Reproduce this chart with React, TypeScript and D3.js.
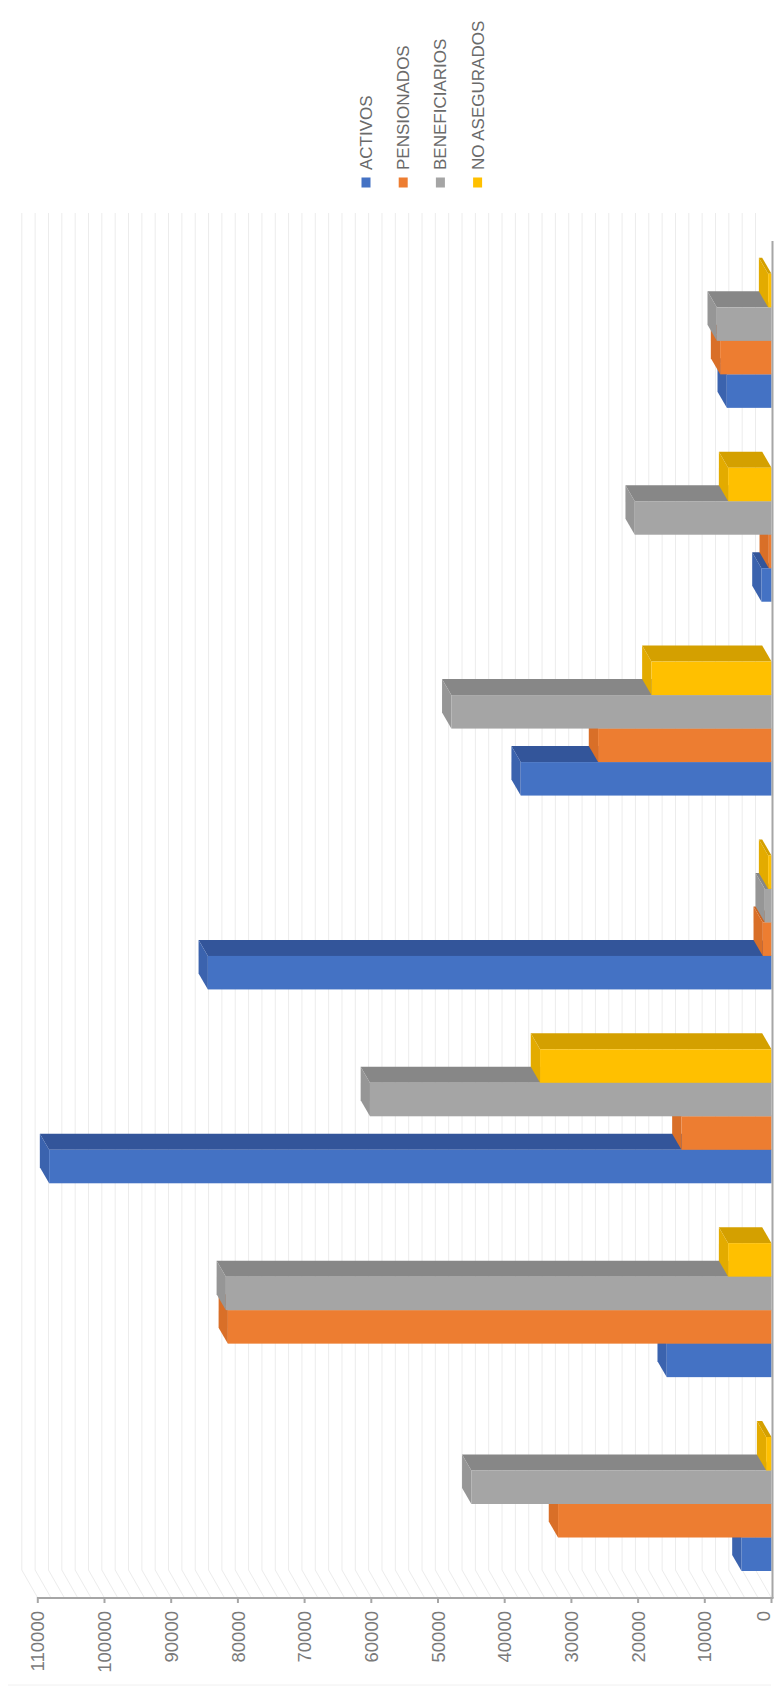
import React from "react";
import * as d3 from "d3";

const categories = ["G1", "G2", "G3", "G4", "G5", "G6", "G7"];
const seriesNames = ["ACTIVOS", "PENSIONADOS", "BENEFICIARIOS", "NO ASEGURADOS"];
const activos = [4500, 15700, 108300, 84500, 37600, 1500, 6700];
const pensionados = [32000, 81500, 13500, 1300, 26000, 400, 7700];
const beneficiarios = [45000, 81800, 60200, 1000, 48000, 20500, 8200];
const noAsegurados = [800, 6500, 34700, 500, 18000, 6500, 500];
const tickValues = [0, 10000, 20000, 30000, 40000, 50000, 60000, 70000, 80000, 90000, 100000, 110000];

const seriesValues = [activos, pensionados, beneficiarios, noAsegurados];
const colors = [
  { front: "#4472C4", top: "#33559a", cap: "#3b63ae" },
  { front: "#ED7D31", top: "#cc6420", cap: "#d96f28" },
  { front: "#A5A5A5", top: "#878787", cap: "#969696" },
  { front: "#FFC000", top: "#d4a000", cap: "#e3ab00" },
];

const W = 775;
const H = 1695;
const axisY = 1598;
const axisTopY = 241;
const x0 = 771.5;
const xMaxPos = 37.8;
const DX = -9.3;
const DY = -16;
const WDX = -16;
const WDY = -28;
const barH = 33.5;

export default function App() {
  const x = d3.scaleLinear().domain([0, 110000]).range([x0, xMaxPos]);
  const band = d3
    .scaleBand<string>()
    .domain(categories.slice().reverse())
    .range([axisTopY, axisY])
    .paddingInner(0)
    .paddingOuter(0);
  const bw = band.bandwidth();
  const groupH = barH * seriesValues.length;
  const bottomGap = 27;
  const inner = d3
    .scaleBand<number>()
    .domain([3, 2, 1, 0])
    .range([0, groupH]);

  const gridVals = d3.range(0, 110001, 2000);

  const bars: React.ReactNode[] = [];
  categories.forEach((c, ci) => {
    const gTop = (band(c) as number) + bw - bottomGap - groupH;
    seriesValues.forEach((vals, si) => {
      const v = vals[ci];
      const yTop = gTop + (inner(si) as number);
      const yBot = yTop + inner.bandwidth();
      const xv = x(v);
      const col = colors[si];
      const topPts = [
        [xv, yTop],
        [x0, yTop],
        [x0 + DX, yTop + DY],
        [xv + DX, yTop + DY],
      ];
      const capPts = [
        [xv, yTop],
        [xv, yBot],
        [xv + DX, yBot + DY],
        [xv + DX, yTop + DY],
      ];
      bars.push(
        <g key={`${ci}-${si}`}>
          <polygon points={topPts.map((p) => p.join(",")).join(" ")} fill={col.top} />
          <polygon points={capPts.map((p) => p.join(",")).join(" ")} fill={col.cap} />
          <rect x={xv} y={yTop} width={x0 - xv} height={yBot - yTop} fill={col.front} />
        </g>
      );
    });
  });

  const wallTop = axisTopY + WDY;
  const wallBottom = axisY + WDY;

  return (
    <svg
      width={W}
      height={H}
      style={{ position: "absolute", left: 0, top: 0, display: "block", background: "#ffffff" }}
      fontFamily="'Liberation Sans', Arial, sans-serif"
    >
      <rect x={0} y={0} width={W} height={H} fill="#ffffff" />
      {/* back wall gridlines */}
      <g stroke="#ececec" strokeWidth={1}>
        {gridVals.map((v) => (
          <line key={`g${v}`} x1={x(v) + WDX} x2={x(v) + WDX} y1={wallTop} y2={wallBottom} />
        ))}
        {gridVals.map((v) => (
          <line key={`f${v}`} x1={x(v) + WDX} x2={x(v)} y1={wallBottom} y2={axisY} />
        ))}
      </g>
      {bars}
      {/* category axis (vertical) */}
      <line x1={x0 + 1} x2={x0 + 1} y1={axisTopY} y2={axisY} stroke="#a6a6a6" strokeWidth={2} />
      {/* value axis */}
      <line x1={x(110000)} x2={x0 + 2} y1={axisY} y2={axisY} stroke="#a6a6a6" strokeWidth={2} />
      {tickValues.map((t) => (
        <g key={`t${t}`}>
          <line x1={x(t)} x2={x(t)} y1={axisY - 1} y2={axisY + 5} stroke="#a6a6a6" strokeWidth={2} />
          <text
            transform={`translate(${Math.min(x(t) + 6.6, W - 5)},${axisY + 13}) rotate(-90)`}
            textAnchor="end"
            fontSize={18.5}
            fill="#7a7a7a"
          >
            {t}
          </text>
        </g>
      ))}
      <line x1={8} x2={W - 4} y1={1685} y2={1685} stroke="#f0f0f0" strokeWidth={1} />
      {/* legend */}
      {seriesNames.map((name, i) => {
        const cx = 366 + i * 37.2;
        return (
          <g key={name}>
            <rect x={cx - 4.5} y={177.5} width={9} height={10} fill={colors[i].front} />
            <text
              transform={`translate(${cx + 6},170) rotate(-90)`}
              textAnchor="start"
              fontSize={17}
              fill="#6a6a6a"
            >
              {name}
            </text>
          </g>
        );
      })}
    </svg>
  );
}
